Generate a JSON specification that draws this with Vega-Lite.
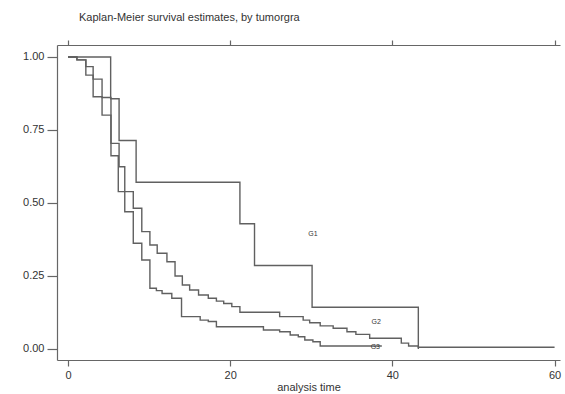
{
  "$schema": "https://vega.github.io/schema/vega-lite/v6.json",
  "width": 503,
  "height": 315,
  "autosize": {"type": "none"},
  "padding": {"left": 57, "top": 45, "right": 5, "bottom": 34},
  "background": "white",
  "config": {
    "font": "Liberation Sans",
    "view": {"stroke": null},
    "axis": {"grid": false, "domainColor": "#666", "tickColor": "#666", "labelColor": "#333", "titleColor": "#333", "labelFontSize": 11, "titleFontSize": 11, "titleFontWeight": "normal", "domainWidth": 1.2, "tickWidth": 1.2}
  },
  "title": {"text": "Kaplan-Meier survival estimates, by tumorgra", "anchor": "start", "frame": "group", "fontSize": 11, "fontWeight": "normal", "color": "#333", "dx": 22, "offset": 16},
  "datasets": {
    "curves": [
      {"g": "G1", "t": 0, "s": 1},
      {"g": "G1", "t": 5.26, "s": 0.857},
      {"g": "G1", "t": 6.3, "s": 0.714},
      {"g": "G1", "t": 8.4, "s": 0.571},
      {"g": "G1", "t": 21.2, "s": 0.429},
      {"g": "G1", "t": 23.0, "s": 0.286},
      {"g": "G1", "t": 30.1, "s": 0.143},
      {"g": "G1", "t": 43.2, "s": 0},
      {"g": "G2", "t": 0, "s": 1},
      {"g": "G2", "t": 1.1, "s": 0.99},
      {"g": "G2", "t": 2.2, "s": 0.967},
      {"g": "G2", "t": 3.1, "s": 0.924},
      {"g": "G2", "t": 4.2, "s": 0.861},
      {"g": "G2", "t": 5.3, "s": 0.704},
      {"g": "G2", "t": 6.3, "s": 0.624},
      {"g": "G2", "t": 7.0, "s": 0.539},
      {"g": "G2", "t": 8.05, "s": 0.482},
      {"g": "G2", "t": 9.1, "s": 0.402},
      {"g": "G2", "t": 10.1, "s": 0.356},
      {"g": "G2", "t": 11.0, "s": 0.328},
      {"g": "G2", "t": 12.2, "s": 0.299},
      {"g": "G2", "t": 13.2, "s": 0.25},
      {"g": "G2", "t": 14.1, "s": 0.219},
      {"g": "G2", "t": 15.0, "s": 0.202},
      {"g": "G2", "t": 16.1, "s": 0.185},
      {"g": "G2", "t": 17.3, "s": 0.174},
      {"g": "G2", "t": 18.3, "s": 0.164},
      {"g": "G2", "t": 19.2, "s": 0.156},
      {"g": "G2", "t": 20.2, "s": 0.145},
      {"g": "G2", "t": 21.2, "s": 0.126},
      {"g": "G2", "t": 26.1, "s": 0.111},
      {"g": "G2", "t": 29.0, "s": 0.099},
      {"g": "G2", "t": 29.8, "s": 0.09},
      {"g": "G2", "t": 31.1, "s": 0.079},
      {"g": "G2", "t": 32.7, "s": 0.071},
      {"g": "G2", "t": 34.4, "s": 0.059},
      {"g": "G2", "t": 35.5, "s": 0.05},
      {"g": "G2", "t": 37.2, "s": 0.037},
      {"g": "G2", "t": 41.1, "s": 0.02},
      {"g": "G2", "t": 42.0, "s": 0.01},
      {"g": "G2", "t": 43.2, "s": 0.006},
      {"g": "G2", "t": 60, "s": 0.006},
      {"g": "G3", "t": 0, "s": 1},
      {"g": "G3", "t": 1.1, "s": 0.99},
      {"g": "G3", "t": 2.2, "s": 0.938},
      {"g": "G3", "t": 3.1, "s": 0.864},
      {"g": "G3", "t": 4.2, "s": 0.801},
      {"g": "G3", "t": 5.3, "s": 0.662},
      {"g": "G3", "t": 6.2, "s": 0.539},
      {"g": "G3", "t": 7.0, "s": 0.47},
      {"g": "G3", "t": 8.05, "s": 0.362},
      {"g": "G3", "t": 9.1, "s": 0.305},
      {"g": "G3", "t": 10.1, "s": 0.208},
      {"g": "G3", "t": 10.9, "s": 0.2},
      {"g": "G3", "t": 11.6, "s": 0.19},
      {"g": "G3", "t": 12.8, "s": 0.174},
      {"g": "G3", "t": 14.0, "s": 0.111},
      {"g": "G3", "t": 16.3, "s": 0.099},
      {"g": "G3", "t": 17.3, "s": 0.094},
      {"g": "G3", "t": 18.3, "s": 0.076},
      {"g": "G3", "t": 24.1, "s": 0.065},
      {"g": "G3", "t": 26.1, "s": 0.059},
      {"g": "G3", "t": 27.4, "s": 0.048},
      {"g": "G3", "t": 28.4, "s": 0.042},
      {"g": "G3", "t": 29.2, "s": 0.031},
      {"g": "G3", "t": 30.2, "s": 0.025},
      {"g": "G3", "t": 31.1, "s": 0.01},
      {"g": "G3", "t": 38.7, "s": 0.01}
    ],
    "labels": [
      {"label": "G1", "t": 30.2, "s": 0.394},
      {"label": "G2", "t": 38.0, "s": 0.092},
      {"label": "G3", "t": 37.9, "s": 0.007}
    ]
  },
  "layer": [
    {
      "data": {"name": "curves"},
      "mark": {"type": "line", "interpolate": "step-after", "stroke": "#606060", "strokeWidth": 1.4},
      "encoding": {
        "x": {"field": "t", "type": "quantitative", "scale": {"domain": [-1.356, 60.67], "nice": false, "zero": false},
              "axis": {"orient": "bottom", "values": [0, 20, 40, 60], "tickSize": 6, "labelPadding": 3, "title": "analysis time", "titlePadding": 1}},
        "y": {"field": "s", "type": "quantitative", "scale": {"domain": [-0.0377, 1.041], "nice": false, "zero": false},
              "axis": {"orient": "left", "values": [0, 0.25, 0.5, 0.75, 1], "format": ".2f", "tickSize": 10, "labelPadding": 3, "title": null}},
        "detail": {"field": "g", "type": "nominal"}
      }
    },
    {
      "data": {"name": "labels"},
      "mark": {"type": "text", "fontSize": 7, "fill": "#333333", "align": "center", "baseline": "middle"},
      "encoding": {
        "x": {"field": "t", "type": "quantitative", "axis": {"orient": "top", "values": [0, 20, 40, 60], "labels": false, "tickSize": 5, "title": null}},
        "y": {"field": "s", "type": "quantitative"},
        "text": {"field": "label"}
      }
    }
  ],
  "resolve": {"axis": {"x": "independent"}}
}
